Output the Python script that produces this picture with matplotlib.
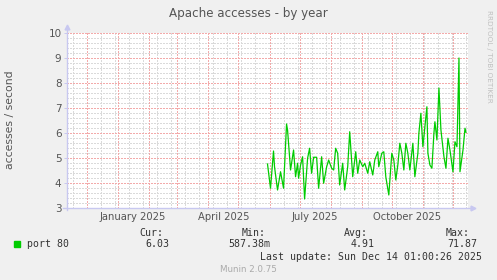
import matplotlib
matplotlib.use("Agg")
import matplotlib.pyplot as plt
from datetime import datetime, timedelta

# day offsets from 2025-06-01 and the accesses/second
day_offsets = [-2, 1, 4, 5, 8, 11, 14, 17, 18, 21, 24, 26, 28, 29, 31, 33, 35, 38, 40, 42,
               44, 47, 49, 52, 54, 57, 59, 62, 64, 66, 68, 70, 73, 75, 78, 80, 83, 86, 88, 90,
               93, 95, 98, 100, 103, 105, 108, 109, 112, 114, 116, 119, 122, 124, 126, 128, 130, 132, 134, 136,
               138, 140, 143, 145, 148, 149, 151, 153, 154, 157, 158, 160, 162, 164, 165, 167, 169, 171, 174, 176,
               178, 180, 183, 185, 187, 189, 190, 193, 195, 196]
accesses = [4.76, 3.79, 5.28, 4.65, 3.72, 4.45, 3.79, 6.36, 6.12, 4.52, 5.32, 4.25, 4.79, 4.19, 4.72, 5.05, 3.36, 4.99, 5.39, 4.39,
            5.03, 5.03, 3.79, 5.05, 3.99, 4.65, 4.92, 4.59, 4.52, 5.39, 5.19, 3.92, 4.79, 3.72, 4.65, 6.05, 4.25, 5.25, 4.39, 4.92,
            4.65, 4.79, 4.39, 4.85, 4.32, 4.92, 5.25, 4.65, 5.19, 5.25, 4.25, 3.52, 5.19, 4.92, 4.12, 4.72, 5.59, 5.19, 4.52, 5.59,
            5.19, 4.52, 5.59, 4.25, 5.19, 5.99, 6.79, 5.45, 5.85, 7.05, 5.19, 4.72, 4.59, 5.99, 6.45, 5.72, 7.8, 6.12, 5.05, 4.59,
            5.79, 5.32, 4.45, 5.65, 5.45, 9.0, 4.45, 5.32, 6.19, 6.03]

month_labels = ["January 2025", "April 2025", "July 2025", "October 2025"]
month_label_dates = [datetime(2025, 1, 16), datetime(2025, 4, 16), datetime(2025, 7, 16), datetime(2025, 10, 16)]

legend_name = "port 80"
stat_names = ["Cur:", "Min:", "Avg:", "Max:"]
stat_values = ["6.03", "587.38m", "4.91", "71.87"]

base = datetime(2025, 6, 1)
dates = [base + timedelta(days=d) for d in day_offsets]

W, H = 497, 280
bg = "#F0F0F0"
axis_col = "#C8C8F0"
txt = "#555555"
mono = "DejaVu Sans Mono"

fig = plt.figure(figsize=(W / 100, H / 100), dpi=100, facecolor=bg)
ax = fig.add_axes([67 / W, 1 - 208 / H, 401 / W, 175 / H])
ax.set_facecolor("white")

x0, x1 = datetime(2024, 11, 11), datetime(2025, 12, 16)
ax.set_xlim(x0, x1)
ax.set_ylim(3, 10)

# minor grid: y every 0.2, x every two weeks
dot = (0, (1.4, 1.4))
grid_kw = dict(lw=0.72, ls=dot, antialiased=False)
for i in range(36):
    y = 3 + i * 0.2
    if abs(y - round(y)) > 1e-6:
        ax.axhline(y, color="#DADADA", zorder=1, **grid_kw)
d = datetime(2024, 11, 17)
while d < x1:
    ax.axvline(d, color="#DADADA", zorder=1, **grid_kw)
    d += timedelta(days=14)

# major grid: y every 1, x on month starts
for y in range(4, 11):
    ax.axhline(y, color="#F3AAAA", zorder=2, **grid_kw)
m = datetime(2024, 12, 1)
while m < x1:
    ax.axvline(m, color="#F3AAAA", zorder=2, **grid_kw)
    m = datetime(m.year + (m.month == 12), m.month % 12 + 1, 1)

ax.plot(dates, accesses, color="#00CC00", lw=0.9, zorder=5)

for s in ax.spines.values():
    s.set_visible(False)
ax.plot([0, 0], [-0.01, 1.02], color=axis_col, lw=1, transform=ax.transAxes, clip_on=False, zorder=6)
ax.plot([-0.01, 1.01], [0, 0], color=axis_col, lw=1, transform=ax.transAxes, clip_on=False, zorder=6)
ax.plot([0], [1.035], marker="^", ms=3.5, color=axis_col, transform=ax.transAxes, clip_on=False)
ax.plot([1.013], [0], marker=">", ms=3.5, color=axis_col, transform=ax.transAxes, clip_on=False)

ax.set_yticks(range(3, 11))
ax.set_yticklabels([str(v) for v in range(3, 11)])
ax.tick_params(axis="y", length=2, width=0.7, color=axis_col, labelsize=7.5, labelcolor=txt, pad=2)
ax.set_xticks(month_label_dates)
ax.set_xticklabels(month_labels)
ax.tick_params(axis="x", length=0, labelsize=7.2, labelcolor=txt, pad=3)

fig.text(248 / W, 1 - 13 / H, "Apache accesses - by year", ha="center", va="center",
         fontsize=8.6, color=txt)
fig.text(10 / W, 1 - 120 / H, "accesses / second", rotation=90, ha="center", va="center",
         fontsize=7.8, color=txt)
fig.text(489 / W, 1 - 10 / H, "RRDTOOL / TOBI OETIKER", rotation=270, ha="center", va="top",
         fontsize=5.2, color="#C0C0C0")

# legend block
fig.patches.append(plt.Rectangle((14 / W, 1 - 247 / H), 6 / W, 6 / H, transform=fig.transFigure,
                                 color="#00CC00"))
fig.text(27 / W, 1 - 244 / H, legend_name, ha="left", va="center", fontsize=7.1, family=mono, color="#333333")
name_right = [163, 266, 368, 470]
value_right = [169, 270, 375, 477]
for nm, vl, xr, xv in zip(stat_names, stat_values, name_right, value_right):
    fig.text(xr / W, 1 - 233 / H, nm, ha="right", va="center", fontsize=7.1, family=mono, color="#333333")
    fig.text(xv / W, 1 - 244 / H, vl, ha="right", va="center", fontsize=7.1, family=mono, color="#333333")
fig.text(482 / W, 1 - 256.5 / H, "Last update: Sun Dec 14 01:00:26 2025", ha="right", va="center",
         fontsize=7.1, family=mono, color="#333333")
fig.text(248 / W, 1 - 269 / H, "Munin 2.0.75", ha="center", va="center", fontsize=6.3, color="#AAAAAA")

fig.savefig("out.png", dpi=100, facecolor=bg)
